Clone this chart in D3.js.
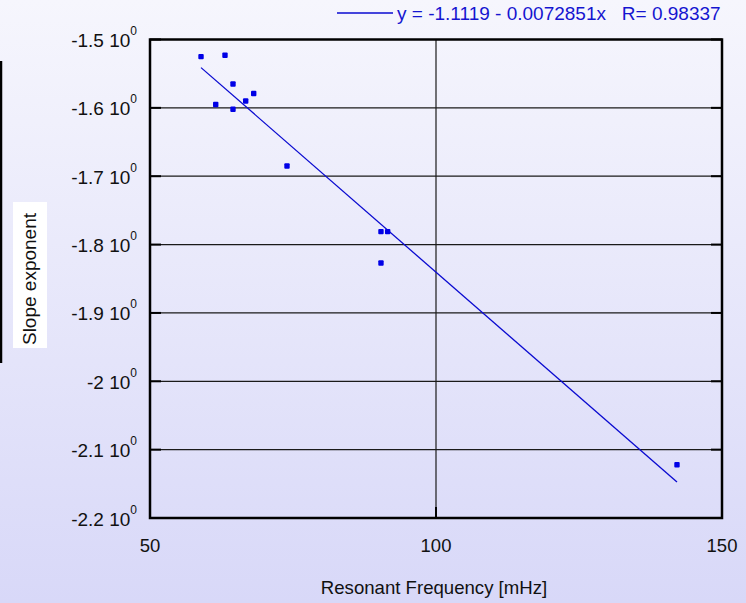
<!DOCTYPE html>
<html><head><meta charset="utf-8">
<script src="https://cdn.jsdelivr.net/npm/d3@7"></script>
<style>
  html, body { margin: 0; padding: 0; }
  svg { display: block; }
  text { font-family: Arial, "Liberation Sans", sans-serif; }
</style>
</head><body>
<script>
// Resonant frequency (mHz) vs. slope exponent
const freq  = [58.92, 63.11, 64.51, 61.49, 64.51, 66.73, 68.13, 73.95, 90.38, 91.55, 90.38, 142.13];
const slope = [-1.525, -1.523, -1.565, -1.595, -1.602, -1.590, -1.579, -1.685, -1.781, -1.781, -1.827, -2.122];

const xTicks = [50, 100, 150];
const yTicks = [-1.5, -1.6, -1.7, -1.8, -1.9, -2.0, -2.1, -2.2];
const yTickLabels = ["-1.5", "-1.6", "-1.7", "-1.8", "-1.9", "-2", "-2.1", "-2.2"];

// linear fit shown in the legend
const fitIntercept = -1.1119;
const fitSlope = -0.0072851;
const fitR = 0.98337;
const fitLabel = "y = " + fitIntercept + " - " + Math.abs(fitSlope) + "x   R= " + fitR;

const W = 746, H = 603;
const plot = { left: 150, right: 722, top: 39.5, bottom: 518 };

const svg = d3.select("body").append("svg").attr("width", W).attr("height", H);

const defs = svg.append("defs");
const grad = defs.append("linearGradient").attr("id", "bg").attr("x1", 0).attr("y1", 0).attr("x2", 0).attr("y2", 1);
grad.append("stop").attr("offset", "0%").attr("stop-color", "#f6f6fd");
grad.append("stop").attr("offset", "100%").attr("stop-color", "#d8d8f8");
svg.append("rect").attr("width", W).attr("height", H).attr("fill", "url(#bg)");

const x = d3.scaleLinear().domain([50, 150]).range([plot.left, plot.right]);
const y = d3.scaleLinear().domain([-2.2, -1.5]).range([plot.bottom, plot.top]);

// grid
const grid = svg.append("g");
grid.selectAll("line.h").data(yTicks).join("line")
  .attr("x1", plot.left).attr("x2", plot.right)
  .attr("y1", d => y(d)).attr("y2", d => y(d))
  .attr("stroke", "#1a1a1a").attr("stroke-width", 1.2);
grid.selectAll("line.v").data(xTicks).join("line")
  .attr("y1", plot.top).attr("y2", plot.bottom)
  .attr("x1", d => x(d)).attr("x2", d => x(d))
  .attr("stroke", "#1a1a1a").attr("stroke-width", 1.2);

// inward tick marks
const ticks = svg.append("g").attr("stroke", "#000").attr("stroke-width", 2);
yTicks.forEach(d => {
  ticks.append("line").attr("x1", plot.left).attr("x2", plot.left + 11).attr("y1", y(d)).attr("y2", y(d));
  ticks.append("line").attr("x1", plot.right - 11).attr("x2", plot.right).attr("y1", y(d)).attr("y2", y(d));
});
xTicks.forEach(d => {
  ticks.append("line").attr("x1", x(d)).attr("x2", x(d)).attr("y1", plot.bottom).attr("y2", plot.bottom - 11);
});

// frame
svg.append("rect")
  .attr("x", plot.left).attr("y", plot.top)
  .attr("width", plot.right - plot.left).attr("height", plot.bottom - plot.top)
  .attr("fill", "none").attr("stroke", "#000").attr("stroke-width", 2.5);

// y tick labels with x10^0 notation
const yl = svg.append("g");
yTicks.forEach((d, i) => {
  const t = yl.append("text")
    .attr("x", 137).attr("y", y(d) + 7.5)
    .attr("text-anchor", "end")
    .attr("font-size", 19).attr("fill", "#111");
  t.append("tspan").text(yTickLabels[i] + " 10");
  t.append("tspan").attr("font-size", 12).attr("dy", -12).text("0");
});

// x tick labels
svg.append("g").selectAll("text").data(xTicks).join("text")
  .attr("x", d => x(d)).attr("y", 552)
  .attr("text-anchor", "middle").attr("font-size", 18.5).attr("fill", "#111")
  .text(d => d);

// axis titles
svg.append("text").attr("x", x(100) - 2).attr("y", 594)
  .attr("text-anchor", "middle").attr("font-size", 18.6).attr("fill", "#111")
  .text("Resonant Frequency [mHz]");

svg.append("rect").attr("x", 13).attr("y", 202).attr("width", 34).attr("height", 146).attr("fill", "#fff");
svg.append("text")
  .attr("transform", "translate(36,279) rotate(-90)")
  .attr("text-anchor", "middle").attr("font-size", 19).attr("fill", "#111")
  .text("Slope exponent");

// partial frame at the left edge
svg.append("line").attr("x1", 1).attr("x2", 1).attr("y1", 61).attr("y2", 363)
  .attr("stroke", "#000").attr("stroke-width", 2.5);

// regression line over the data range
const [xmin, xmax] = d3.extent(freq);
svg.append("line")
  .attr("x1", x(xmin)).attr("y1", y(fitIntercept + fitSlope * xmin))
  .attr("x2", x(xmax)).attr("y2", y(fitIntercept + fitSlope * xmax))
  .attr("stroke", "#0a0ad0").attr("stroke-width", 1.3);

// points
svg.append("g").selectAll("rect").data(freq).join("rect")
  .attr("x", (d, i) => x(d) - 2.7).attr("y", (d, i) => y(slope[i]) - 2.7)
  .attr("width", 5.4).attr("height", 5.4).attr("rx", 1)
  .attr("fill", "#0000e6");

// legend
svg.append("line").attr("x1", 337).attr("x2", 393).attr("y1", 13).attr("y2", 13)
  .attr("stroke", "#0a0ad0").attr("stroke-width", 1.3);
svg.append("text").attr("x", 397).attr("y", 20)
  .attr("font-size", 19).attr("fill", "#1515d0")
  .style("white-space", "pre")
  .text(fitLabel);
</script>
</body></html>
